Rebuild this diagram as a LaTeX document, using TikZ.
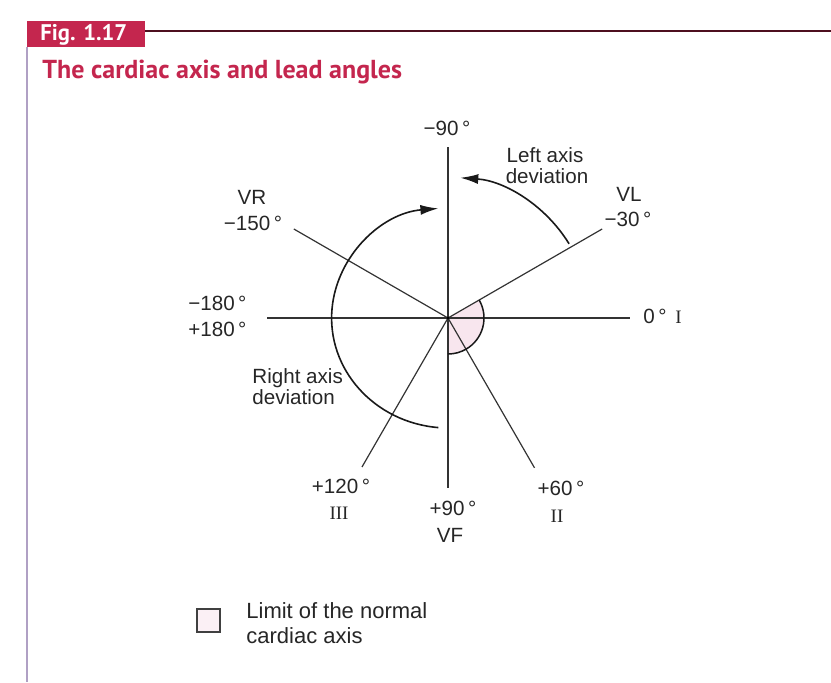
\documentclass[tikz,border=0pt]{standalone}
\usepackage{fontspec}
\setmainfont{Liberation Sans}
\newfontfamily\romanfont{Liberation Serif}
\newfontfamily\headfont{PT Sans}
\usetikzlibrary{arrows.meta}
\definecolor{figred}{RGB}{196,38,78}
\definecolor{normalpink}{RGB}{248,230,238}
\definecolor{framegrey}{RGB}{176,160,196}
\begin{document}
\begin{tikzpicture}[x=0.5pt,y=-0.5pt,
    lbl/.style={text=black!85,font=\fontsize{10.3}{12}\selectfont,inner sep=0pt,anchor=base},
    rom/.style={text=black!85,font=\romanfont\fontsize{9.5}{11}\selectfont,inner sep=0pt,anchor=base},
    ray/.style={draw=black!80,line width=0.6pt},
    devarc/.style={draw=black!90,line width=0.8pt,-{Latex[length=9pt,width=5pt]}}]
    \useasboundingbox (0,0) rectangle (831,682);
    % header
    \fill[figred] (27,21) rectangle (145,47);
    \node[anchor=base west,inner sep=0pt,text=white,font=\headfont\bfseries\fontsize{11.3}{13}\selectfont] (fig) at (40,40) {Fig. 1.17};
    \draw[black!60!figred,line width=0.7pt] (145,31) -- (831,31);
    \draw[framegrey,line width=0.7pt] (27,47) -- (27,682);
    \node[anchor=base west,inner sep=0pt,text=figred,font=\headfont\bfseries\fontsize{13}{15}\selectfont] (title) at (42,78) {The cardiac axis and lead angles};
    % lead axes
    \begin{scope}[shift={(448,318)}]
        \coordinate (O) at (0,0);
        \fill[normalpink] (O) -- (-30:36) arc[start angle=-30,end angle=90,radius=36] -- cycle;
        \draw[ray] (-180:181) -- (0:182);
        \draw[ray] (-90:171) -- (90:170);
        \draw[ray] (O) -- (-30:178);
        \draw[ray] (O) -- (-150:178);
        \draw[ray] (O) -- (60:173);
        \draw[ray] (O) -- (120:172);
        \draw[black!90,line width=0.75pt] (-30:36) arc[start angle=-30,end angle=90,radius=36];
        \fill[black] (O) circle[radius=1.6];
        % deviation arrows
        \draw[devarc] (95:110) arc[start angle=95,end angle=265,x radius=117,y radius=110];
        \draw[devarc] (-31.5:142) arc[start angle=-31.5,end angle=-86,radius=139];
    \end{scope}
    % labels
    \node[lbl] (minus90) at (447,135) {\textminus 90\,°};
    \node[lbl] (leftdev) at (545,162) {Left axis};
    \node[lbl] (leftdevb) at (547,183) {deviation};
    \node[lbl] (vl) at (629,201) {VL};
    \node[lbl] (minus30) at (628,226) {\textminus 30\,°};
    \node[lbl] (vr) at (252,204) {VR};
    \node[lbl] (minus150) at (253,230) {\textminus 150\,°};
    \node[lbl,anchor=base west] (minus180) at (188,310) {\textminus 180\,°};
    \node[lbl,anchor=base west] (plus180) at (188,336) {+180\,°};
    \node[lbl,anchor=base west] (zero) at (643,323) {0\,°};
    \node[rom,anchor=base west] (leadI) at (675,323) {I};
    \node[lbl,anchor=base west] (rightdev) at (252,383) {Right axis};
    \node[lbl,anchor=base west] (rightdevb) at (252,404) {deviation};
    \node[lbl] (plus120) at (341,493) {+120\,°};
    \node[rom] (leadIII) at (339,519) {III};
    \node[lbl] (plus90) at (453,515) {+90\,°};
    \node[lbl] (vf) at (450,542) {VF};
    \node[lbl] (plus60) at (561,495) {+60\,°};
    \node[rom] (leadII) at (557,522) {II};
    % legend
    \draw[black!75,fill=normalpink!60,line width=0.6pt] (197,609) rectangle (220,632);
    \node[lbl,anchor=base west,font=\fontsize{11}{13}\selectfont] (legend) at (246,618) {Limit of the normal};
    \node[lbl,anchor=base west,font=\fontsize{11}{13}\selectfont] (legendb) at (246,643) {cardiac axis};
\end{tikzpicture}
\end{document}
